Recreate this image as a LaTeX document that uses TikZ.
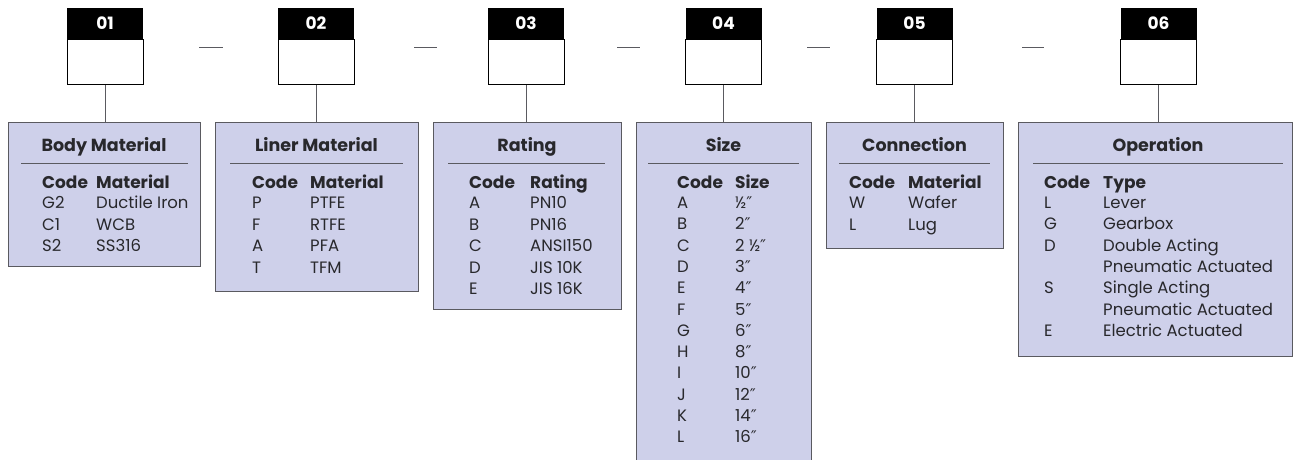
\documentclass[tikz,border=0pt]{standalone}
\usepackage{fontspec}
\setmainfont{Poppins}
\newfontfamily\primefont{DejaVu Sans}
\usetikzlibrary{positioning}
\definecolor{panelfill}{RGB}{206,208,234}
\definecolor{edgegrey}{RGB}{90,90,96}
\definecolor{inkgrey}{RGB}{40,40,44}
\newcommand{\inch}{{\primefont\fontsize{16}{16}\selectfont ″}}

\begin{document}
\begin{tikzpicture}[x=1pt,y=-1pt,
   head/.style={fill=black,text=white,font=\bfseries\fontsize{17}{17}\selectfont,
      minimum width=76pt,minimum height=31pt,inner sep=0pt},
   slot/.style={draw=black,fill=white,line width=0.9pt,
      minimum width=76pt,minimum height=45pt,inner sep=0pt},
   panel/.style={draw=edgegrey,fill=panelfill,line width=1.1pt,anchor=north west,inner sep=0pt},
   link/.style={draw=edgegrey,line width=0.9pt},
   rule/.style={draw=edgegrey,line width=0.9pt},
   sep/.style={draw=edgegrey,line width=0.9pt},
   title/.style={font=\bfseries\fontsize{17.5}{17.5}\selectfont,text=inkgrey,anchor=base,inner sep=0pt},
   colhead/.style={font=\bfseries\fontsize{17}{17}\selectfont,text=inkgrey,anchor=base west,inner sep=0pt},
   cell/.style={font=\fontsize{16.5}{16.5}\selectfont,text=inkgrey,anchor=base west,inner sep=0pt}]

   \useasboundingbox (0,0) rectangle (1293,459);

   % code boxes along the top
   \node[head] (h1) at (105,23.5) {01};
   \node[head] (h2) at (316,23.5) {02};
   \node[head] (h3) at (526,23.5) {03};
   \node[head] (h4) at (723.5,23.5) {04};
   \node[head] (h5) at (914.5,23.5) {05};
   \node[head] (h6) at (1158.5,23.5) {06};
   \foreach \i in {1,...,6}
      \node[slot,anchor=north] (s\i) at (h\i.south) {};

   % dashes between the boxes
   \draw[sep] (199,47) -- (223,47);
   \draw[sep] (414,47) -- (437,47);
   \draw[sep] (617,47) -- (640,47);
   \draw[sep] (807,47) -- (830,47);
   \draw[sep] (1022,47) -- (1044,47);

   % panels
   \node[panel,minimum width=192pt,minimum height=144pt] (p1) at (8,122) {};
   \node[panel,minimum width=203pt,minimum height=169pt] (p2) at (215,122) {};
   \node[panel,minimum width=188pt,minimum height=187pt] (p3) at (433,122) {};
   \node[panel,minimum width=175pt,minimum height=350pt] (p4) at (636,122) {};
   \node[panel,minimum width=177pt,minimum height=126pt] (p5) at (826,122) {};
   \node[panel,minimum width=274pt,minimum height=234pt] (p6) at (1018,122) {};
   \foreach \i in {1,...,6}
      \draw[link] (s\i.south) -- (s\i.south |- p\i.north);

   % 01 body material
   \node[title] (t1) at (104,151) {Body Material};
   \draw[rule] (21,163) -- (188,163);
   \node[colhead] (k1) at (42,188) {Code};
   \node[colhead] (m1) at (96,188) {Material};
   \foreach \c/\v [count=\k from 0] in {G2/Ductile Iron,C1/WCB,S2/SS316}{
      \node[cell] (c1\k) at (42,208.5+21.6*\k) {\c};
      \node[cell] (v1\k) at (96,208.5+21.6*\k) {\v};
   }

   % 02 liner material
   \node[title] (t2) at (316.5,151) {Liner Material};
   \draw[rule] (230,163) -- (403,163);
   \node[colhead] (k2) at (252,188) {Code};
   \node[colhead] (m2) at (310,188) {Material};
   \foreach \c/\v [count=\k from 0] in {P/PTFE,F/RTFE,A/PFA,T/TFM}{
      \node[cell] (c2\k) at (252,208.5+21.6*\k) {\c};
      \node[cell] (v2\k) at (310,208.5+21.6*\k) {\v};
   }

   % 03 rating
   \node[title] (t3) at (527,151) {Rating};
   \draw[rule] (448,163) -- (605,163);
   \node[colhead] (k3) at (469,188) {Code};
   \node[colhead] (m3) at (530,188) {Rating};
   \foreach \c/\v [count=\k from 0] in {A/PN10,B/PN16,C/ANSI150,D/JIS 10K,E/JIS 16K}{
      \node[cell] (c3\k) at (469,208.5+21.6*\k) {\c};
      \node[cell] (v3\k) at (530,208.5+21.6*\k) {\v};
   }

   % 04 size
   \node[title] (t4) at (723.5,151) {Size};
   \draw[rule] (648,163) -- (799,163);
   \node[colhead] (k4) at (677,188) {Code};
   \node[colhead] (m4) at (735,188) {Size};
   \foreach \c/\v [count=\k from 0] in {A/{½\inch},B/{2\inch},C/{2 ½\inch},D/{3\inch},
         E/{4\inch},F/{5\inch},G/{6\inch},H/{8\inch},I/{10\inch},J/{12\inch},K/{14\inch},L/{16\inch}}{
      \node[cell] (c4\k) at (677,208.5+21.3*\k) {\c};
      \node[cell] (v4\k) at (735,208.5+21.3*\k) {\v};
   }

   % 05 connection
   \node[title] (t5) at (914.5,151) {Connection};
   \draw[rule] (839,163) -- (990,163);
   \node[colhead] (k5) at (849,188) {Code};
   \node[colhead] (m5) at (908,188) {Material};
   \foreach \c/\v [count=\k from 0] in {W/Wafer,L/Lug}{
      \node[cell] (c5\k) at (849,208.5+21.6*\k) {\c};
      \node[cell] (v5\k) at (908,208.5+21.6*\k) {\v};
   }

   % 06 operation
   \node[title] (t6) at (1158,151) {Operation};
   \draw[rule] (1033,163) -- (1283,163);
   \node[colhead] (k6) at (1044,188) {Code};
   \node[colhead] (m6) at (1103,188) {Type};
   \foreach \c/\v [count=\k from 0] in {L/Lever,G/Gearbox,D/Double Acting,{}/Pneumatic Actuated,
         S/Single Acting,{}/Pneumatic Actuated,E/Electric Actuated}{
      \node[cell] (c6\k) at (1044,208.5+21.3*\k) {\c};
      \node[cell] (v6\k) at (1103,208.5+21.3*\k) {\v};
   }
\end{tikzpicture}
\end{document}
